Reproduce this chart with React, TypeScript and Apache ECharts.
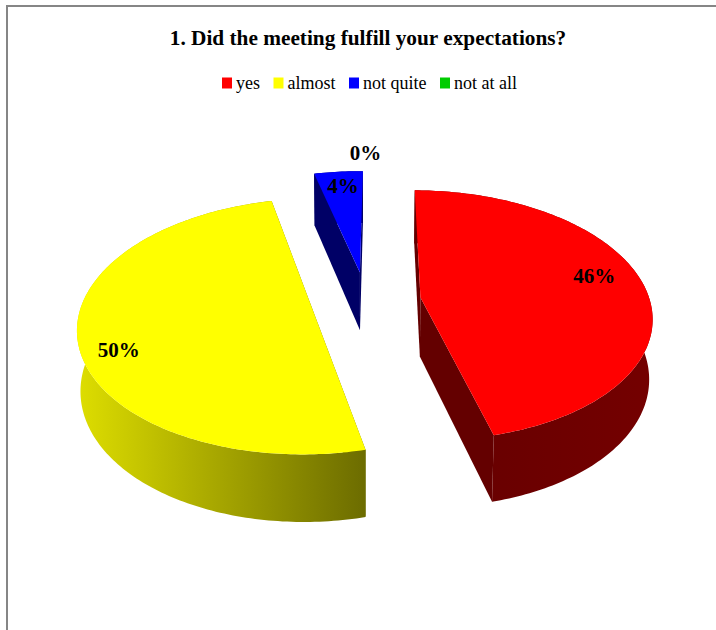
import React, { useEffect, useRef } from "react";
import * as echarts from "echarts";

const categories = ["yes", "almost", "not quite", "not at all"];
const percentValues = [46, 50, 4, 0];
const percentLabels = ["46%", "50%", "4%", "0%"];
const titleText = "1. Did the meeting fulfill your expectations?";

const topColors = ["#FF0000", "#FFFF00", "#0000FF", "#00CC00"];
const SERIF = "'Liberation Serif', serif";

// view model of the tilted, exploded pie
const VIEW = { cx: 366, cy: 301, rx: 229.5, ry: 123.4, persp: 0.143, drop: 60, dropPersp: 0.012 };
const START_DEG = 1;
const EXPLODE = 0.24;
const LABEL_RADIUS = 0.77;
const sliceTwist = [-0.7, 0, -0.35, 0];
const labelNudge = [
  { dx: 2, dy: -10 },
  { dx: -14, dy: 19 },
  { dx: 0, dy: -7 },
  { dx: -4, dy: -39 },
];

function project(X: number, Z: number, H: number): number[] {
  const d = 1 + VIEW.persp * Z + VIEW.dropPersp * H;
  return [VIEW.cx + (VIEW.rx * X) / d, VIEW.cy + (-VIEW.ry * Z + VIEW.drop * H) / d];
}

function sideFill(i: number): any {
  if (i === 1) {
    return new echarts.graphic.LinearGradient(0, 0, 1, 0, [
      { offset: 0, color: "#DEDE00" },
      { offset: 1, color: "#6C6C00" },
    ]);
  }
  if (i === 0) {
    return new echarts.graphic.LinearGradient(0, 0, 1, 0, [
      { offset: 0, color: "#640000" },
      { offset: 1, color: "#740000" },
    ]);
  }
  return i === 2 ? "#000066" : "#006600";
}

function sliceElements(i: number, value: number): any[] {
  const total = percentValues.reduce((a, b) => a + b, 0);
  const before = percentValues.slice(0, i).reduce((a, b) => a + b, 0);
  const a0 = START_DEG + sliceTwist[i] + (before / total) * 360;
  const a1 = a0 + (value / total) * 360;
  const mid = ((a0 + a1) / 2) * (Math.PI / 180);
  const ox = Math.sin(mid) * EXPLODE;
  const oz = Math.cos(mid) * EXPLODE;

  const children: any[] = [];
  if (value > 0) {
    const arcTop: number[][] = [];
    const arcBottom: number[][] = [];
    const steps = Math.max(8, Math.round(a1 - a0));
    for (let k = 0; k <= steps; k++) {
      const t = ((a0 + ((a1 - a0) * k) / steps) * Math.PI) / 180;
      const X = ox + Math.sin(t);
      const Z = oz + Math.cos(t);
      arcTop.push(project(X, Z, 0));
      arcBottom.push(project(X, Z, 1));
    }
    const cTop = project(ox, oz, 0);
    const cBot = project(ox, oz, 1);
    const flat = i === 0 ? "#640000" : i === 2 ? "#000066" : "#6C6C00";
    children.push({
      type: "polygon",
      shape: { points: [cTop, arcTop[0], arcBottom[0], cBot] },
      style: { fill: flat },
    });
    children.push({
      type: "polygon",
      shape: { points: [cTop, arcTop[steps], arcBottom[steps], cBot] },
      style: { fill: flat },
    });
    children.push({
      type: "polygon",
      shape: { points: arcTop.concat(arcBottom.slice().reverse()) },
      style: { fill: sideFill(i) },
    });
    children.push({
      type: "polygon",
      shape: { points: [cTop].concat(arcTop) },
      style: { fill: topColors[i] },
    });
  }
  const lp = project(ox + Math.sin(mid) * LABEL_RADIUS, oz + Math.cos(mid) * LABEL_RADIUS, 0);
  children.push({
    type: "text",
    style: {
      text: percentLabels[i],
      x: lp[0] + labelNudge[i].dx,
      y: lp[1] + labelNudge[i].dy,
      font: `bold 21px ${SERIF}`,
      fill: "#000000",
      align: "center",
      verticalAlign: "middle",
    },
  });
  return children;
}

export default function App() {
  const ref = useRef<HTMLDivElement>(null);
  useEffect(() => {
    const chart = echarts.init(ref.current!, undefined, { renderer: "svg" });
    chart.setOption({
      animation: false,
      backgroundColor: "#FFFFFF",
      title: {
        text: titleText,
        left: 363,
        top: 22,
        textAlign: "center",
        textStyle: { fontFamily: SERIF, fontWeight: "bold", fontSize: 21.3, color: "#000000" },
      },
      legend: {
        data: categories,
        left: 222,
        top: 74,
        icon: "rect",
        itemWidth: 10,
        itemHeight: 11,
        itemGap: 13.5,
        padding: 0,
        textStyle: { fontFamily: SERIF, fontSize: 18, color: "#000000", padding: [0, 0, 0, -1] },
      },
      graphic: [
        {
          type: "polyline",
          silent: true,
          shape: { points: [[7, 630], [7, 6], [716, 6]] },
          style: { stroke: "#868686", lineWidth: 2, fill: "none" },
        },
      ],
      series: categories.map((name, i) => ({
        type: "custom",
        name,
        coordinateSystem: "none",
        silent: true,
        itemStyle: { color: topColors[i] },
        data: [[percentValues[i]]],
        renderItem: (_p: any, api: any) => ({
          type: "group",
          children: sliceElements(i, api.value(0)),
        }),
      })),
    });
    return () => chart.dispose();
  }, []);
  return (
    <div
      ref={ref}
      style={{ position: "absolute", left: 0, top: 0, width: 716, height: 630 }}
    />
  );
}
